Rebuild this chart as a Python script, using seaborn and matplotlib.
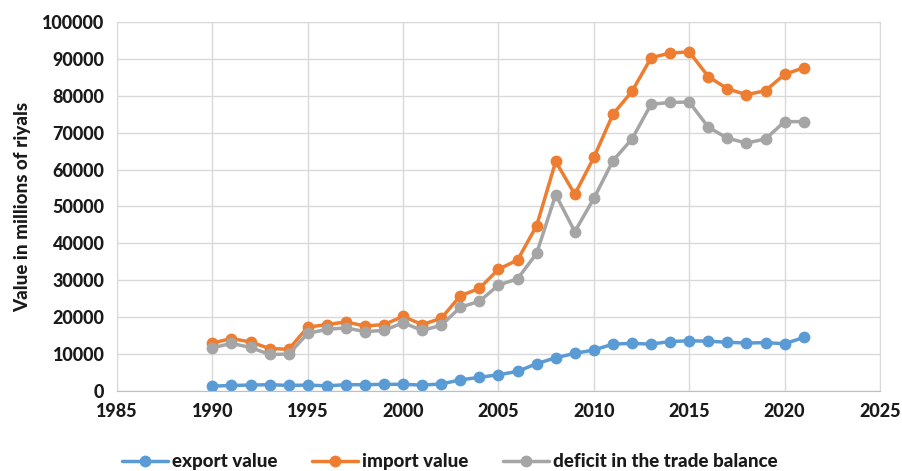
import matplotlib
matplotlib.use("Agg")
import matplotlib.pyplot as plt
import seaborn as sns
import pandas as pd

years = list(range(1990, 2022))
export_value = [1300, 1500, 1600, 1700, 1500, 1600, 1400, 1700, 1700, 1800, 1800, 1600, 1900,
                3000, 3700, 4400, 5300, 7400, 9000, 10200, 11100, 12700, 12900, 12700, 13400,
                13600, 13500, 13200, 13000, 13100, 12800, 14500]
import_value = [13000, 14200, 13300, 11500, 11300, 17300, 18000, 18700, 17600, 18000, 20200, 18000,
                19700, 25800, 27800, 33000, 35500, 44800, 62200, 53300, 63300, 75000, 81200, 90300,
                91600, 91900, 85200, 81900, 80300, 81400, 85800, 87600]
deficit_value = [11700, 12900, 11800, 9900, 10000, 15600, 16700, 17100, 16100, 16400, 18500, 16400,
                 17800, 22700, 24300, 28700, 30400, 37300, 53200, 43200, 52200, 62400, 68300, 77700,
                 78200, 78300, 71500, 68500, 67200, 68300, 73000, 73000]
series_names = ["export value", "import value", "deficit in the trade balance"]
colors = ["#5B9BD5", "#ED7D31", "#A5A5A5"]

df = pd.DataFrame({"year": years * 3,
                   "value": export_value + import_value + deficit_value,
                   "series": [series_names[0]] * len(years) + [series_names[1]] * len(years)
                   + [series_names[2]] * len(years)})

sns.set_style("white")
plt.rcParams['font.family'] = ['Lato', 'DejaVu Sans']
W = 'black'

fig = plt.figure(figsize=(9.02, 4.71), dpi=100)
ax = fig.add_axes([0.1297, 0.1699, 0.9756 - 0.1297, 0.9533 - 0.1699])

sns.lineplot(data=df, x="year", y="value", hue="series", hue_order=series_names,
             palette=colors, marker="o", markersize=8.5, markeredgewidth=0, linewidth=2.5,
             ax=ax, legend=True)

ax.set_xlim(1985, 2025)
ax.set_ylim(0, 100000)
ax.set_xticks(range(1985, 2026, 5))
ax.set_yticks(range(0, 100001, 10000))
ax.grid(True, color="#D9D9D9", linewidth=1)
ax.set_axisbelow(True)
for s in ax.spines.values():
    s.set_color("#D9D9D9")
ax.spines['bottom'].set_color("#BFBFBF")
ax.tick_params(length=0, labelsize=13, pad=9, labelcolor="#1a1a1a")
for lab in ax.get_xticklabels() + ax.get_yticklabels():
    lab.set_fontweight(W)
ax.set_xlabel("")
ax.set_ylabel("Value in millions of riyals", fontsize=13.5, fontweight=W, labelpad=8,
              color="#1a1a1a")

handles, labels = ax.get_legend_handles_labels()
leg = ax.legend(handles, labels, loc="center", bbox_to_anchor=(0.436, -0.192), ncol=3,
                frameon=False, fontsize=13.5, handlelength=2.45, columnspacing=1.85,
                handletextpad=0.2, borderpad=0)
for t in leg.get_texts():
    t.set_fontweight(W)
    t.set_color("#1a1a1a")

fig.savefig("out.png", dpi=100)
